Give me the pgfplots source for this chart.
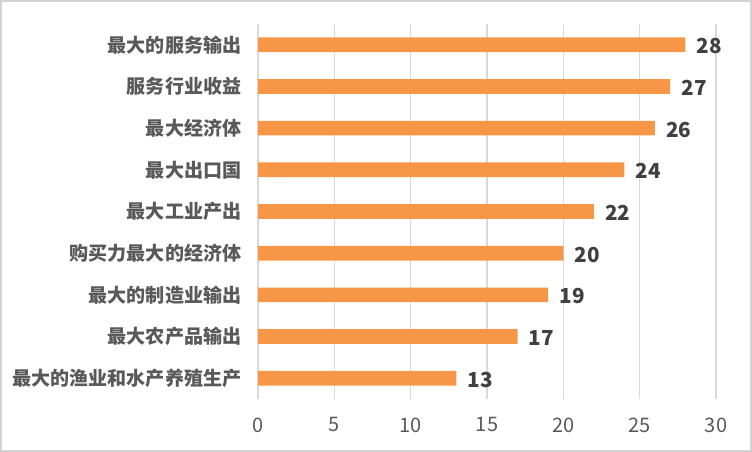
\documentclass[border=0pt]{standalone}
\usepackage{fontspec}
\setmainfont{Noto Sans CJK SC}
\usepackage{pgfplots}
\pgfplotsset{compat=1.18}
\definecolor{barorange}{HTML}{F79646}
\definecolor{labgray}{HTML}{595959}
\definecolor{valgray}{HTML}{404040}
\definecolor{gridgray}{HTML}{D9D9D9}
\pgfplotsset{/pgf/number format/assume math mode=true}
\begin{document}
\begin{tikzpicture}[x=1pt,y=1pt]
\useasboundingbox (0,0) rectangle (564,339);
\draw[color=gray!35, line width=1.2pt] (0.9,0.9) rectangle (563.1,338.1);
\begin{axis}[at={(193.5pt,39.75pt)}, anchor=south west, scale only axis,
  width=343.5pt, height=281.25pt,
  xbar, bar width=11pt,
  xmin=0, xmax=30, xtick={0,5,...,30},
  ymin=-0.5, ymax=8.5, y dir=reverse, ytick={0,...,8},
  yticklabels={最大的服务输出,服务行业收益,最大经济体,最大出口国,最大工业产出,购买力最大的经济体,最大的制造业输出,最大农产品输出,最大的渔业和水产养殖生产},
  axis line style={draw=none}, tick style={draw=none}, major tick length=0pt,
  xmajorgrids, grid style={color=gridgray, line width=0.8pt},
  yticklabel style={font=\bfseries\fontsize{14.3}{16}\selectfont, color=labgray, xshift=-9pt},
  xticklabel style={font=\fontsize{15}{17}\selectfont, color=labgray, yshift=-10.5pt},
  nodes near coords,
  nodes near coords style={font=\bfseries\fontsize{15.5}{17}\selectfont, color=valgray, xshift=5pt, yshift=-1pt},
]
\addplot[fill=barorange, draw=none] coordinates {
(28,0) (27,1) (26,2) (24,3) (22,4) (20,5) (19,6) (17,7) (13,8)
};
\end{axis}
\end{tikzpicture}
\end{document}
